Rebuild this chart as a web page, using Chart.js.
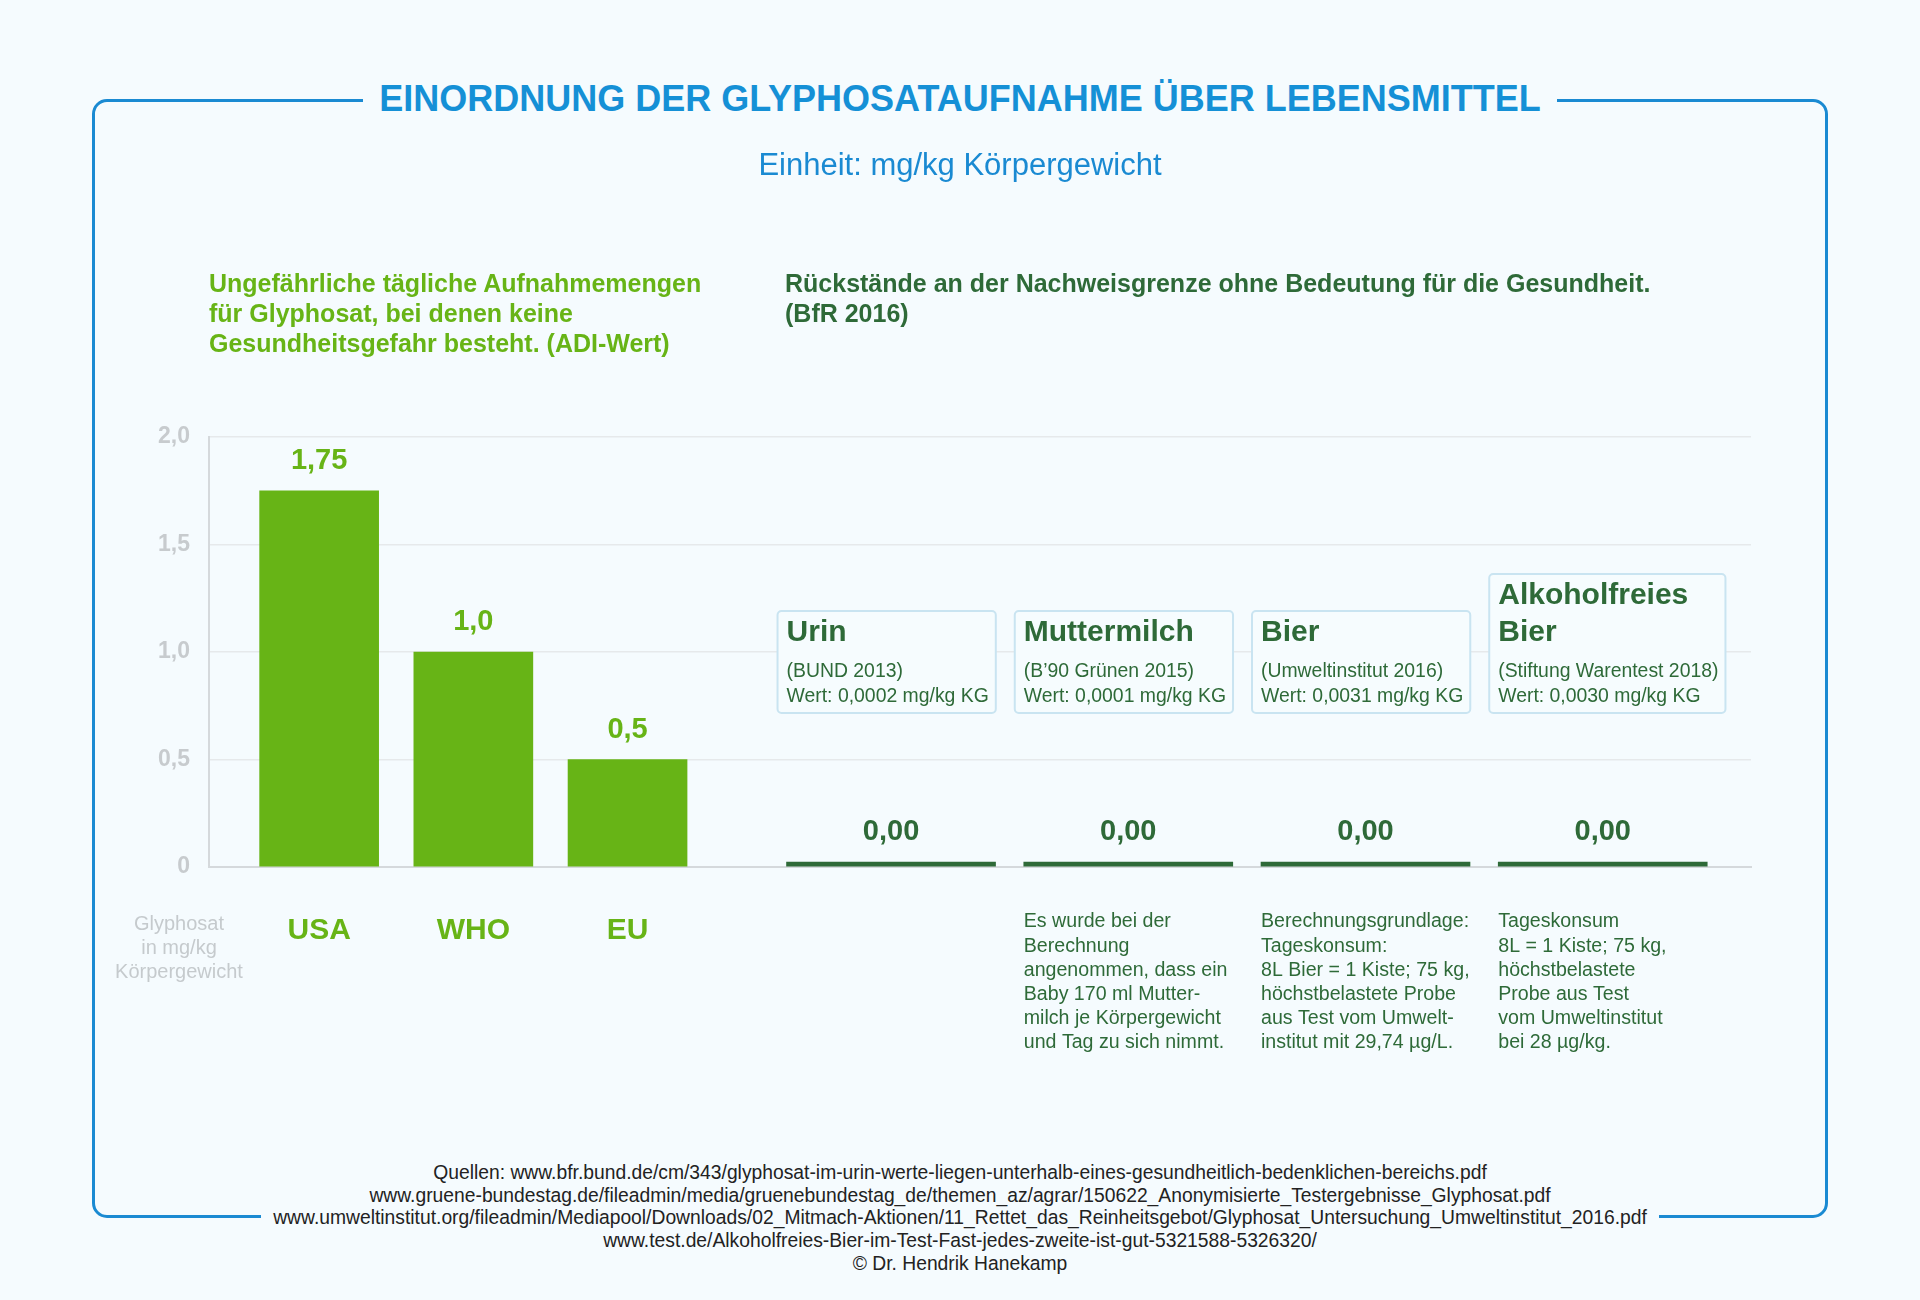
<!DOCTYPE html>
<html lang="de">
<head>
<meta charset="utf-8">
<title>Einordnung der Glyphosataufnahme über Lebensmittel</title>
<script src="https://cdn.jsdelivr.net/npm/chart.js@4.4.1/dist/chart.umd.min.js"></script>
<style>
  html, body { margin: 0; padding: 0; }
  body {
    width: 1920px; height: 1300px; overflow: hidden; position: relative;
    background: #f5fbfe;
    font-family: 'Liberation Sans', Arial, sans-serif;
  }
  #frame {
    position: absolute; left: 92px; top: 99px; width: 1736px; height: 1119px;
    box-sizing: border-box; border: 3px solid #1a8ad2; border-radius: 15px;
  }
  #chart { position: absolute; left: 0; top: 0; }
  .title {
    position: absolute; left: 0; width: 1920px; top: 77px; text-align: center;
  }
  .title span {
    display: inline-block; background: #f5fbfe; padding: 0 16px;
    color: #1590d6; font-weight: bold; font-size: 36px; line-height: 44px;
  }
  .subtitle {
    position: absolute; left: 0; width: 1920px; top: 147px; text-align: center;
    color: #1a8ad2; font-size: 31px; line-height: 36px;
  }
  .head {
    position: absolute; top: 268px; font-weight: bold; font-size: 25px; line-height: 30px;
  }
  #headAdi { left: 209px; color: #67b416; }
  #headRes { left: 785px; color: #2e6a38; }
  #unitNote {
    position: absolute; left: 99px; width: 160px; top: 911px; text-align: center;
    color: #c5cacd; font-size: 20px; line-height: 24px;
  }
  #sources {
    position: absolute; left: 0; width: 1920px; top: 1162px; text-align: center;
  }
  #sources div {
    display: inline-block; background: #f5fbfe; padding: 0 12px;
    color: #222; font-size: 19.3px; line-height: 22.7px;
  }
</style>
</head>
<body>
<div id="frame"></div>
<canvas id="chart" width="1920" height="1300"></canvas>
<div class="title"><span>EINORDNUNG DER GLYPHOSATAUFNAHME ÜBER LEBENSMITTEL</span></div>
<div class="subtitle">Einheit: mg/kg Körpergewicht</div>
<div class="head" id="headAdi">Ungefährliche tägliche Aufnahmemengen<br>für Glyphosat, bei denen keine<br>Gesundheitsgefahr besteht. (ADI-Wert)</div>
<div class="head" id="headRes">Rückstände an der Nachweisgrenze ohne Bedeutung für die Gesundheit.<br>(BfR 2016)</div>
<div id="unitNote">Glyphosat<br>in mg/kg<br>Körpergewicht</div>
<div id="sources"><div>
Quellen: www.bfr.bund.de/cm/343/glyphosat-im-urin-werte-liegen-unterhalb-eines-gesundheitlich-bedenklichen-bereichs.pdf<br>
www.gruene-bundestag.de/fileadmin/media/gruenebundestag_de/themen_az/agrar/150622_Anonymisierte_Testergebnisse_Glyphosat.pdf<br>
www.umweltinstitut.org/fileadmin/Mediapool/Downloads/02_Mitmach-Aktionen/11_Rettet_das_Reinheitsgebot/Glyphosat_Untersuchung_Umweltinstitut_2016.pdf<br>
www.test.de/Alkoholfreies-Bier-im-Test-Fast-jedes-zweite-ist-gut-5321588-5326320/<br>
© Dr. Hendrik Hanekamp
</div></div>

<script>
// ADI-Werte (mg/kg Körpergewicht)
const adiLabels = ['USA', 'WHO', 'EU'];
const adiValues = [1.75, 1.0, 0.5];

// Rückstände an der Nachweisgrenze
const residueNames = [['Urin'], ['Muttermilch'], ['Bier'], ['Alkoholfreies', 'Bier']];
const residueSources = ['(BUND 2013)', '(B’90 Grünen 2015)', '(Umweltinstitut 2016)', '(Stiftung Warentest 2018)'];
const residueValues = [0.0002, 0.0001, 0.0031, 0.0030];
const residueNotes = [
  [],
  ['Es wurde bei der', 'Berechnung', 'angenommen, dass ein', 'Baby 170 ml Mutter-', 'milch je Körpergewicht', 'und Tag zu sich nimmt.'],
  ['Berechnungsgrundlage:', 'Tageskonsum:', '8L Bier = 1 Kiste; 75 kg,', 'höchstbelastete Probe', 'aus Test vom Umwelt-', 'institut mit 29,74 µg/L.'],
  ['Tageskonsum', '8L = 1 Kiste; 75 kg,', 'höchstbelastete', 'Probe aus Test', 'vom Umweltinstitut', 'bei 28 µg/kg.']
];

const yTicks = [0, 0.5, 1.0, 1.5, 2.0];

// slot layout of the two bar groups on the shared plot width
const GREEN_SLOTS = 71, GREEN_FIRST = 5, GREEN_STEP = 7;
const DARK_SLOTS = 26, DARK_FIRST = 11, DARK_STEP = 4;

const FONT = "'Liberation Sans', Arial, sans-serif";
const GREEN = '#67b416';
const DARK = '#2e6a38';
const AXIS = '#d5d9dc';

Chart.defaults.font.family = FONT;

function spread(values, slots, first, step, fill) {
  const out = new Array(slots).fill(fill);
  values.forEach((v, i) => { out[first + i * step] = v; });
  return out;
}

function comma(str) { return str.replace('.', ','); }
function fmtAdi(v) { const s = String(v); return comma(s.indexOf('.') < 0 ? s + '.0' : s); }

const annotate = {
  id: 'annotate',
  afterDatasetsDraw(chart) {
    const ctx = chart.ctx;
    ctx.save();
    ctx.textBaseline = 'middle';

    // value labels over the ADI bars
    const gMeta = chart.getDatasetMeta(0);
    adiValues.forEach((v, i) => {
      const bar = gMeta.data[GREEN_FIRST + i * GREEN_STEP];
      ctx.fillStyle = GREEN;
      ctx.textAlign = 'center';
      ctx.font = 'bold 29px ' + FONT;
      ctx.fillText(fmtAdi(v), bar.x, bar.y - 30);
    });

    // residue bars: value, info box, notes
    const dMeta = chart.getDatasetMeta(1);
    residueValues.forEach((v, i) => {
      const bar = dMeta.data[DARK_FIRST + i * DARK_STEP];
      const left = bar.x - bar.width / 2;
      ctx.fillStyle = DARK;
      ctx.textAlign = 'center';
      ctx.font = 'bold 29px ' + FONT;
      ctx.fillText(comma(v.toFixed(2)), bar.x, bar.y - 30);

      const lines = [residueSources[i], 'Wert: ' + comma(v.toFixed(4)) + ' mg/kg KG'];
      const names = residueNames[i];
      ctx.font = '19.4px ' + FONT;
      let w = Math.max(...lines.map(t => ctx.measureText(t).width));
      ctx.font = 'bold 30px ' + FONT;
      w = Math.max(w, ...names.map(t => ctx.measureText(t).width));
      const bottom = 713;
      const lastName = bottom - 80;
      const top = lastName - (names.length - 1) * 37 - 22;
      const bx = left - 9;
      ctx.beginPath();
      ctx.roundRect(bx, top, w + 16, bottom - top, 4);
      ctx.fillStyle = '#f6fcfe';
      ctx.fill();
      ctx.lineWidth = 2;
      ctx.strokeStyle = '#c9e4f1';
      ctx.stroke();

      ctx.textAlign = 'left';
      ctx.fillStyle = DARK;
      ctx.font = 'bold 30px ' + FONT;
      names.forEach((t, k) => ctx.fillText(t, bx + 9, lastName - (names.length - 1 - k) * 37));
      ctx.font = '19.4px ' + FONT;
      ctx.fillText(lines[0], bx + 9, bottom - 41);
      ctx.fillText(lines[1], bx + 9, bottom - 16);

      ctx.font = '19.6px ' + FONT;
      residueNotes[i].forEach((t, k) => ctx.fillText(t, left, 922 + k * 24.2));
    });
    ctx.restore();
  }
};

new Chart(document.getElementById('chart'), {
  type: 'bar',
  data: {
    datasets: [
      {
        label: 'ADI-Wert',
        data: spread(adiValues, GREEN_SLOTS, GREEN_FIRST, GREEN_STEP, null),
        xAxisID: 'xg',
        backgroundColor: GREEN,
        barThickness: 119,
        grouped: false
      },
      {
        label: 'Rückstände',
        data: spread(residueValues, DARK_SLOTS, DARK_FIRST, DARK_STEP, null),
        xAxisID: 'xd',
        backgroundColor: DARK,
        barThickness: 209,
        minBarLength: 5,
        grouped: false
      }
    ]
  },
  options: {
    responsive: false,
    animation: false,
    devicePixelRatio: 1,
    layout: { padding: { top: 437, right: 169, bottom: 333, left: 0 } },
    plugins: { legend: { display: false }, tooltip: { enabled: false } },
    scales: {
      y: {
        min: 0, max: 2,
        afterBuildTicks: s => { s.ticks = yTicks.map(v => ({ value: v })); },
        afterFit: s => { s.width = 209; },
        ticks: {
          padding: 19,
          color: '#c7cbce',
          font: { size: 23, weight: 'bold' },
          callback: v => v === 0 ? '0' : comma(v.toFixed(1))
        },
        grid: { color: '#e6e9eb', lineWidth: 1.5, drawTicks: false },
        border: { color: AXIS, width: 2 }
      },
      xg: {
        type: 'category',
        position: 'bottom',
        labels: spread(adiLabels, GREEN_SLOTS, GREEN_FIRST, GREEN_STEP, ''),
        offset: false,
        afterFit: s => { s.height = 100; },
        grid: { display: false, drawTicks: false },
        border: { color: AXIS, width: 2 },
        ticks: {
          autoSkip: false, maxRotation: 0, padding: 46,
          color: GREEN,
          font: { size: 30, weight: 'bold' }
        }
      },
      xd: {
        type: 'category',
        display: false,
        offset: true,
        labels: spread(residueNames.map(n => n.join(' ')), DARK_SLOTS, DARK_FIRST, DARK_STEP, '')
      }
    }
  },
  plugins: [annotate]
});
</script>
</body>
</html>
